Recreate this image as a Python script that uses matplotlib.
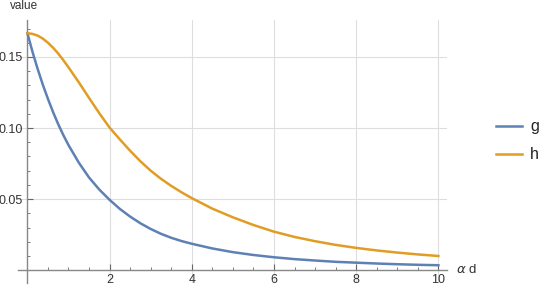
import matplotlib
matplotlib.use("Agg")
import matplotlib.pyplot as plt
from matplotlib.lines import Line2D
from matplotlib.ticker import MultipleLocator

plt.rcParams['font.family'] = ['Liberation Sans', 'DejaVu Sans']

# values
x_vals = [0, 0.125, 0.25, 0.375, 0.5, 0.625, 0.75, 0.875, 1.0,
          1.25, 1.5, 1.75, 2.0, 2.25, 2.5, 2.75, 3.0, 3.25, 3.5, 3.75, 4.0,
          4.5, 5.0, 5.5, 6.0, 6.5, 7.0, 7.5, 8.0, 8.5, 9.0, 9.5, 10.0]
g_vals = [0.1667, 0.1535, 0.1415, 0.1305, 0.1205, 0.1112, 0.1027, 0.0950, 0.0880,
          0.0757, 0.0652, 0.0567, 0.0495, 0.0431, 0.0377, 0.0330, 0.0290, 0.0256,
          0.0228, 0.0205, 0.0186,
          0.0153, 0.0127, 0.0107, 0.0091, 0.0078, 0.0068, 0.0059, 0.0053, 0.0047,
          0.0042, 0.0038, 0.0035]
h_vals = [0.1667, 0.1662, 0.1650, 0.1629, 0.1600, 0.1565, 0.1524, 0.1477, 0.1427,
          0.1322, 0.1212, 0.1104, 0.1003, 0.0920, 0.0840, 0.0766, 0.0700, 0.0643,
          0.0593, 0.0548, 0.0507,
          0.0433, 0.0372, 0.0318, 0.0271, 0.0234, 0.0204, 0.0178, 0.0157, 0.0139,
          0.0124, 0.0111, 0.0100]
series_names = ['g', 'h']
series_colors = ['#5E81B5', '#E19C24']
x_major = [2, 4, 6, 8, 10]
y_major = [0.05, 0.10, 0.15]
y_labels = ['0.05', '0.10', '0.15']

fig = plt.figure(figsize=(5.4, 2.86), dpi=100)
ax = fig.add_axes([0.034, 0.0105, 0.793, 0.9196])
ax.set_xlim(-0.22, 10.2)
ax.set_ylim(-0.009, 0.176)

# grid
for xv in x_major:
    ax.axvline(xv, color='#dedede', lw=0.8, zorder=0)
for yv in y_major:
    ax.axhline(yv, color='#dedede', lw=0.8, zorder=0)

# curves
for vals, col in zip([g_vals, h_vals], series_colors):
    ax.plot(x_vals, vals, color=col, lw=1.8, solid_joinstyle='round', zorder=3)

# axes through the origin
for s in ['top', 'right']:
    ax.spines[s].set_visible(False)
ax.spines['left'].set_position(('data', 0))
ax.spines['bottom'].set_position(('data', 0))
for s in ['left', 'bottom']:
    ax.spines[s].set_color('#888888')
    ax.spines[s].set_linewidth(1.0)
    ax.spines[s].set_zorder(2)

ax.set_xticks(x_major)
ax.set_xticklabels([str(v) for v in x_major])
ax.set_yticks(y_major)
ax.set_yticklabels(y_labels)
ax.xaxis.set_minor_locator(MultipleLocator(0.5))
ax.yaxis.set_minor_locator(MultipleLocator(0.01))
ax.tick_params(which='major', direction='in', length=4.5, width=0.8, color='#666666',
               labelsize=9, labelcolor='#333333', pad=3)
ax.tick_params(which='minor', direction='in', length=2.5, width=0.6, color='#666666')
ax.tick_params(axis='x', which='major', pad=2.5)

fig.text(0.845, 0.056, r'$\alpha$ d', fontsize=9.5, color='#333333', va='center', ha='left')
fig.text(0.019, 0.978, 'value', fontsize=8.5, color='#333333', va='center', ha='left')

# legend
leg_y = [1 - 126 / 286, 1 - 154.3 / 286]
for name, col, yy in zip(series_names, series_colors, leg_y):
    fig.add_artist(Line2D([496 / 540, 522 / 540], [yy, yy], color=col, lw=1.8))
    fig.text(530 / 540, yy, name, fontsize=11.5, color='#222222', va='center', ha='left')

fig.savefig('out.png', dpi=100)
